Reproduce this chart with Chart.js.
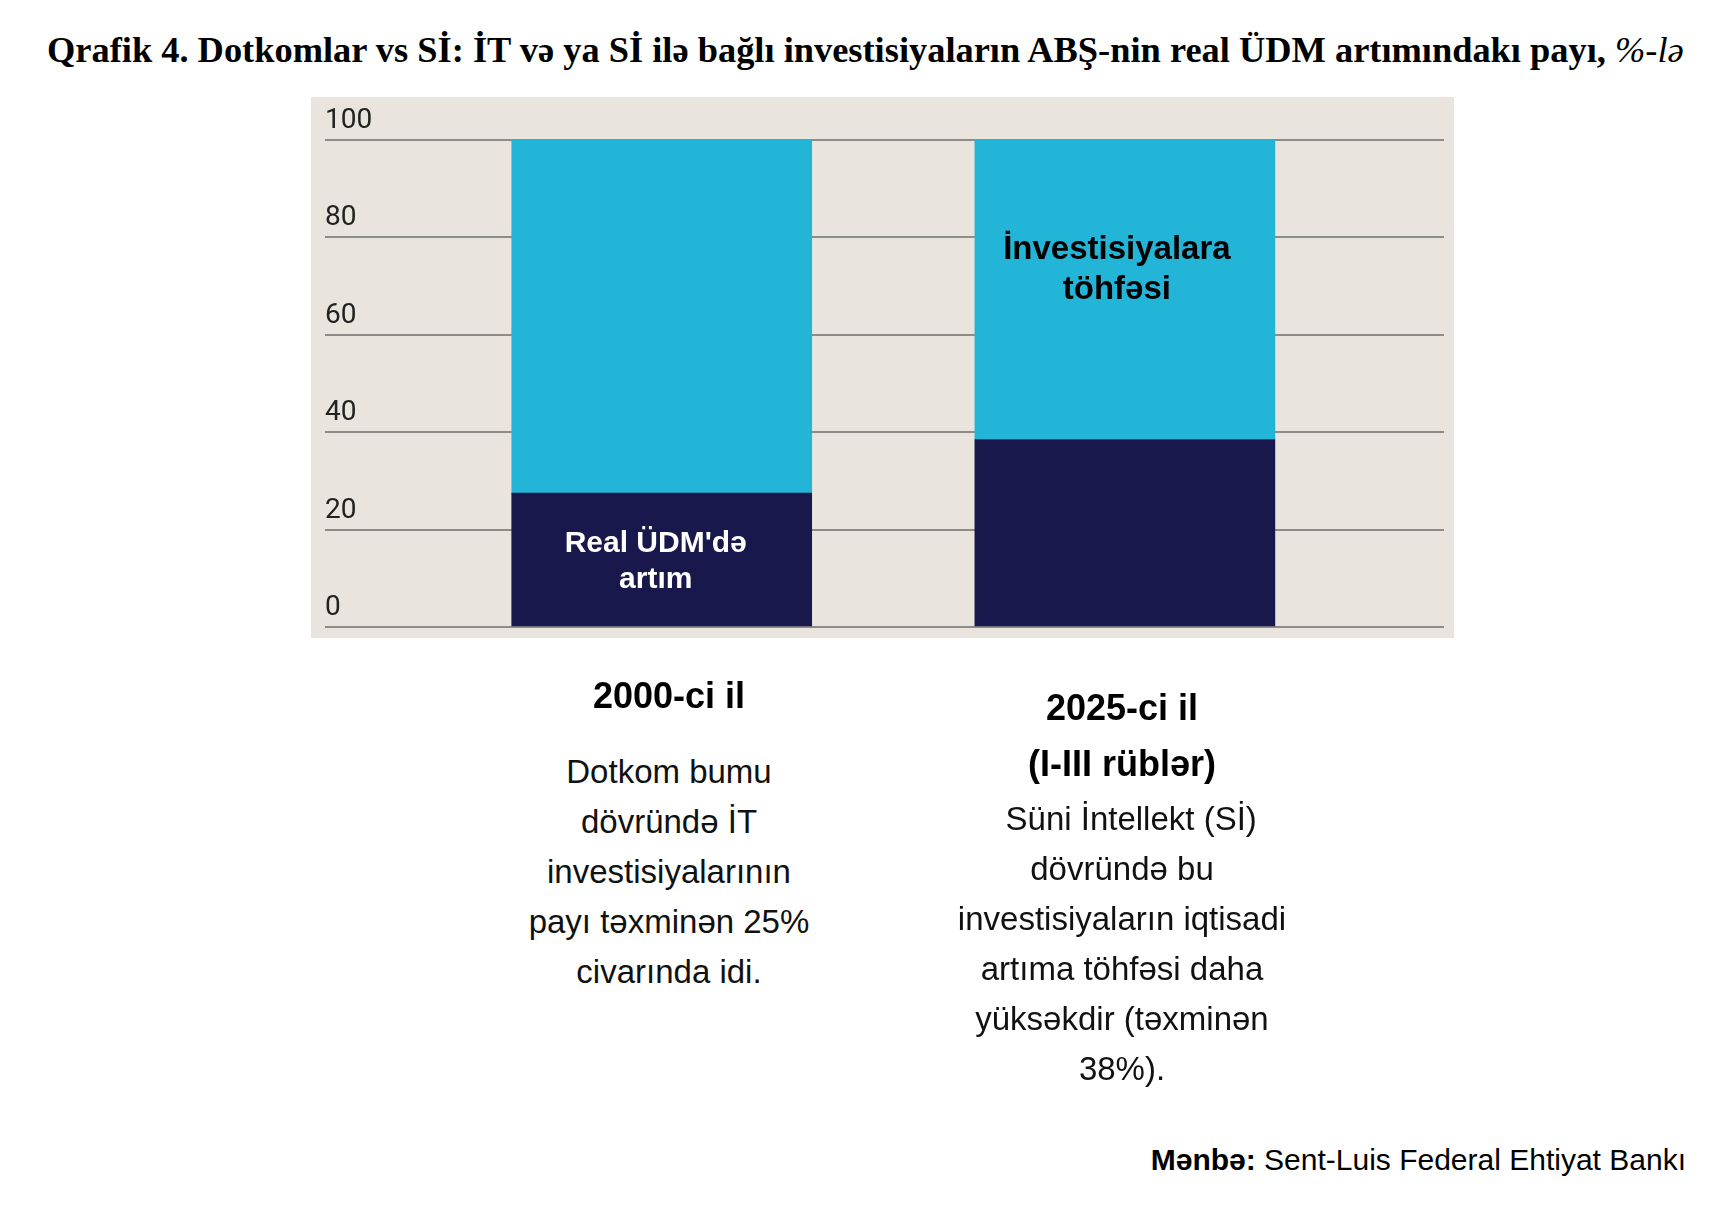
<!DOCTYPE html>
<html>
<head>
<meta charset="utf-8">
<script src="https://cdn.jsdelivr.net/npm/chart.js@4.4.1/dist/chart.umd.min.js"></script>
<style>
  html, body { margin: 0; padding: 0; background: #ffffff; }
  body { width: 1722px; height: 1214px; position: relative; overflow: hidden; font-family: "Liberation Sans", Arial, sans-serif; color: #111; }
  #title { position: absolute; left: 47px; top: 28px; white-space: nowrap; font-family: "Liberation Serif", "Times New Roman", serif; font-weight: bold; font-size: 36.4px; line-height: 44px; color: #000; }
  #title i { font-weight: normal; }
  #chartBox { position: absolute; left: 0; top: 0; width: 1722px; height: 700px; }
  .blk { position: absolute; width: 560px; text-align: center; white-space: nowrap; }
  .hd { font-weight: bold; font-size: 36px; color: #000; }
  .bd { font-size: 33px; line-height: 50px; color: #111; }
  #source { position: absolute; right: 36px; top: 1140px; font-size: 30px; line-height: 40px; white-space: nowrap; color: #000; }
</style>
</head>
<body>
<div id="title">Qrafik 4. Dotkomlar vs Sİ: İT və ya Sİ ilə bağlı investisiyaların ABŞ-nin real ÜDM artımındakı payı, <i>%-lə</i></div>
<div id="chartBox"><canvas id="c"></canvas></div>

<div class="blk hd" style="left:389px; top:671px; line-height:50px;">2000-ci il</div>
<div class="blk bd" style="left:389px; top:747px;">Dotkom bumu<br>dövründə İT<br>investisiyalarının<br>payı təxminən 25%<br>civarında idi.</div>

<div class="blk hd" style="left:842px; top:680px; line-height:56px;">2025-ci il<br>(I-III rüblər)</div>
<div class="blk bd" style="left:842px; top:794px;">&nbsp; Süni İntellekt (Sİ)<br>dövründə bu<br>investisiyaların iqtisadi<br>artıma töhfəsi daha<br>yüksəkdir (təxminən<br>38%).</div>

<div id="source"><b>Mənbə:</b> Sent-Luis Federal Ehtiyat Bankı</div>

<script>
// ---- data ----
const categories = ['2000-ci il', '2025-ci il'];
const gdpGrowthShare = [27.5, 38.5];      // Real ÜDM'də artım (dark)
const investmentShare = [72.5, 61.5];     // İnvestisiyalara töhfəsi (cyan)
const yTickValues = [0, 20, 40, 60, 80, 100];
const seriesNames = ["Real ÜDM'də artım", "İnvestisiyalara töhfəsi"];
const insideLabels = [["Real ÜDM'də", "artım"], ["İnvestisiyalara", "töhfəsi"]];

const NAVY = '#19184c';
const CYAN = '#23b5d7';
const BG = '#e9e5de';

const bgPlugin = {
  id: 'panelBg',
  beforeDraw(chart) {
    const {ctx, chartArea: a} = chart;
    ctx.save();
    ctx.fillStyle = BG;
    ctx.fillRect(a.left - 14, a.top - 43, (a.right + 10) - (a.left - 14), (a.bottom + 11) - (a.top - 43));
    ctx.restore();
  }
};

const labelPlugin = {
  id: 'insideLabels',
  afterDatasetsDraw(chart) {
    const {ctx} = chart;
    const ys = chart.scales.y;
    ctx.save();
    ctx.textAlign = 'center';
    ctx.textBaseline = 'middle';
    // label 1: in dark segment of first bar
    const el0 = chart.getDatasetMeta(0).data[0];
    ctx.fillStyle = '#ffffff';
    ctx.font = 'bold 30px "Liberation Sans", Arial, sans-serif';
    const c0 = ys.getPixelForValue(gdpGrowthShare[0] / 2) + 2;
    ctx.fillText(insideLabels[0][0], el0.x - 6, c0 - 18);
    ctx.fillText(insideLabels[0][1], el0.x - 6, c0 + 18);
    // label 2: in cyan segment of second bar
    const el1 = chart.getDatasetMeta(1).data[1];
    ctx.fillStyle = '#000000';
    ctx.font = 'bold 33px "Liberation Sans", Arial, sans-serif';
    const c1 = ys.getPixelForValue(73.3);
    ctx.fillText(insideLabels[1][0], el1.x - 8, c1 - 20);
    ctx.fillText(insideLabels[1][1], el1.x - 8, c1 + 20);
    ctx.restore();
  }
};

new Chart(document.getElementById('c'), {
  type: 'bar',
  data: {
    datasets: [
      {
        label: seriesNames[0],
        data: categories.map((c, i) => ({x: i, y: gdpGrowthShare[i]})),
        backgroundColor: NAVY,
        barThickness: 300,
        borderWidth: 0
      },
      {
        label: seriesNames[1],
        data: categories.map((c, i) => ({x: i, y: investmentShare[i]})),
        backgroundColor: CYAN,
        barThickness: 300,
        borderWidth: 0
      }
    ]
  },
  options: {
    responsive: true,
    maintainAspectRatio: false,
    animation: false,
    devicePixelRatio: 1,
    layout: { padding: { left: 325, right: 278, top: 140, bottom: 73 } },
    plugins: { legend: { display: false }, tooltip: { enabled: false } },
    scales: {
      x: {
        type: 'linear',
        stacked: true,
        offset: false,
        min: -0.727,
        max: 1.689,
        ticks: { display: false },
        grid: { display: false, drawTicks: false },
        border: { display: false }
      },
      y: {
        stacked: true,
        min: 0,
        max: 100,
        afterBuildTicks(scale) { scale.ticks = yTickValues.map(v => ({value: v})); },
        ticks: {
          mirror: true,
          padding: 0,
          labelOffset: -19,
          color: '#222222',
          font: { family: 'Roboto', size: 28 }
        },
        grid: { color: '#8e8c87', lineWidth: 2, drawTicks: false },
        border: { display: false }
      }
    }
  },
  plugins: [bgPlugin, labelPlugin]
});
</script>
</body>
</html>
